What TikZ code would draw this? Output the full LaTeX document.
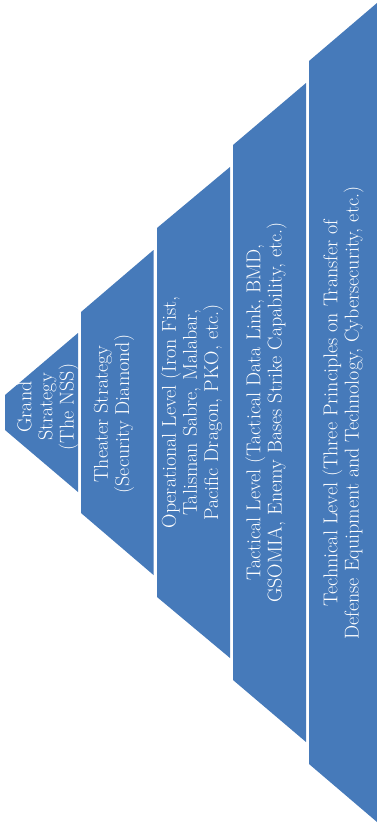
\documentclass[tikz,border=0pt]{standalone}
\usepackage{tikz}
\usetikzlibrary{positioning}
\definecolor{pyrblue}{RGB}{70,122,186}

\begin{document}
\begin{tikzpicture}[
  x=0.75pt, y=-0.75pt,
  tier/.style={fill=pyrblue, draw=none},
  lbl/.style={rotate=90, align=center, text=white,
              font=\fontsize{15}{15.8}\selectfont, inner sep=0pt}
]
\useasboundingbox (0,0) rectangle (377,827);

% five trapezoid tiers, apex at the left
\foreach \xl/\hl/\xr/\hr in {5/17.5/78/79.5, 81/100.5/153.5/162.5,
                             157/184.5/230/245.5, 233/267.5/306/329.5,
                             309/351.5/377/409.5}
  \fill[tier] (\xl,412.5-\hl) -- (\xr,412.5-\hr) -- (\xr,412.5+\hr)
              -- (\xl,412.5+\hl) -- cycle;

% Tier labels rotated inside
\node[lbl] (grand)  at (48,407)   {Grand\\Strategy\\(The NSS)};
\node[lbl] (theater) at (114,414) {Theater Strategy\\(Security Diamond)};
\node[lbl] (oper)   at (192,412.5) {Operational Level (Iron Fist,\\Talisman Sabre, Malabar,\\Pacific Dragon, PKO, etc.)};
\node[lbl] (tact)   at (266,412.5) {Tactical Level (Tactical Data Link, BMD,\\GSOMIA, Enemy Bases Strike Capability, etc.)};
\node[lbl] (tech)   at (343,413) {Technical Level (Three Principles on Transfer of\\Defense Equipment and Technology, Cybersecurity, etc.)};
\end{tikzpicture}
\end{document}
